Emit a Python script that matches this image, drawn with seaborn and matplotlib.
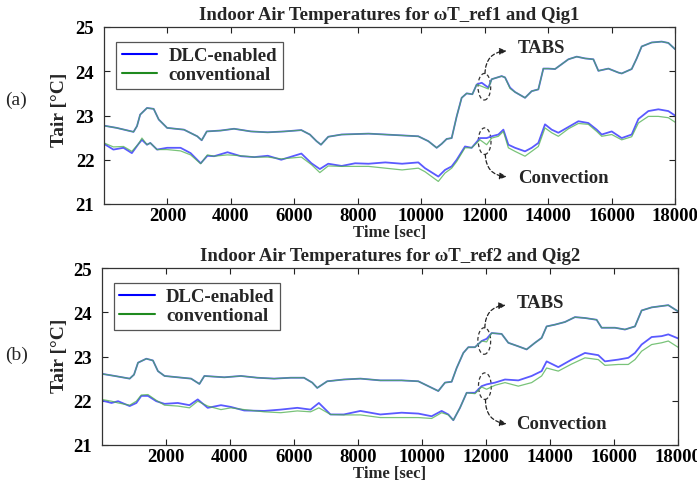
import numpy as np
import pandas as pd
import matplotlib
matplotlib.use("Agg")
import matplotlib.pyplot as plt
from matplotlib.patches import Ellipse
from matplotlib.lines import Line2D
import seaborn as sns

# ---------------- data ----------------
# Panel (a)
a_tabs_t = [0, 400, 930, 1040, 1140, 1355, 1566, 1725, 1990, 2520, 2940, 3080, 3240, 3680, 4100,
            4630, 5160, 5690, 6220, 6490, 6700, 6840, 7070, 7490, 8340, 8870, 9400, 9908, 10224, 10487,
            10645, 10802, 10960, 11118, 11275, 11433, 11612, 11748, 11906, 12116, 12221, 12536, 12642, 12800, 12957,
            13272, 13482, 13692, 13850, 14008, 14219, 14429, 14639, 14902, 15164, 15427, 15585, 15900, 16215, 16320,
            16635, 16793, 16950, 17265, 17580, 17790, 18000]
a_tabs_dlc = [22.77, 22.72, 22.63, 22.76, 23.02, 23.17, 23.15, 22.91, 22.72, 22.68, 22.53, 22.44, 22.64, 22.66, 22.70,
              22.64, 22.62, 22.64, 22.67, 22.57, 22.42, 22.34, 22.52, 22.57, 22.59, 22.57, 22.55, 22.53, 22.42, 22.27,
              22.36, 22.47, 22.49, 22.98, 23.40, 23.50, 23.48, 23.70, 23.74, 23.63, 23.82, 23.89, 23.86, 23.63, 23.53,
              23.40, 23.55, 23.59, 24.06, 24.06, 24.05, 24.16, 24.27, 24.33, 24.29, 24.27, 24.01, 24.06, 23.97, 23.95,
              24.05, 24.29, 24.56, 24.65, 24.67, 24.64, 24.50]
a_tabs_conv = [22.77, 22.72, 22.63, 22.76, 23.02, 23.17, 23.15, 22.91, 22.72, 22.68, 22.53, 22.44, 22.64, 22.66, 22.70,
               22.64, 22.62, 22.64, 22.67, 22.57, 22.42, 22.34, 22.52, 22.57, 22.59, 22.57, 22.55, 22.53, 22.42, 22.27,
               22.36, 22.47, 22.49, 22.98, 23.40, 23.50, 23.48, 23.70, 23.66, 23.60, 23.82, 23.89, 23.86, 23.61, 23.53,
               23.40, 23.55, 23.59, 24.06, 24.06, 24.05, 24.16, 24.27, 24.33, 24.29, 24.27, 24.01, 24.06, 23.97, 23.95,
               24.05, 24.29, 24.56, 24.65, 24.67, 24.64, 24.50]
a_conv_t = [0, 296, 614, 878, 1090, 1196, 1355, 1460, 1672, 1990, 2413, 2730, 3048, 3259, 3470,
            3894, 4317, 4741, 5164, 5587, 6222, 6540, 6804, 7069, 7492, 7915, 8338, 8868, 9397, 9908,
            10118, 10539, 10750, 10960, 11118, 11380, 11590, 11853, 12063, 12221, 12432, 12590, 12747, 12957, 13272,
            13482, 13692, 13902, 14113, 14323, 14639, 14954, 15269, 15532, 15690, 16005, 16320, 16635, 16845, 17160,
            17475, 17790, 18000]
a_conv_dlc = [22.36, 22.23, 22.27, 22.15, 22.36, 22.45, 22.34, 22.38, 22.23, 22.27, 22.27, 22.15, 21.92, 22.09, 22.08,
              22.17, 22.08, 22.06, 22.09, 22.00, 22.14, 21.92, 21.79, 21.91, 21.86, 21.92, 21.91, 21.94, 21.91, 21.94,
              21.81, 21.62, 21.77, 21.85, 22.00, 22.30, 22.27, 22.49, 22.49, 22.53, 22.57, 22.68, 22.34, 22.27, 22.19,
              22.27, 22.38, 22.80, 22.68, 22.61, 22.74, 22.87, 22.83, 22.68, 22.57, 22.64, 22.49, 22.57, 22.92, 23.10,
              23.14, 23.10, 23.00]
a_conv_conv = [22.38, 22.29, 22.30, 22.19, 22.36, 22.49, 22.34, 22.38, 22.23, 22.23, 22.20, 22.11, 21.91, 22.11, 22.08,
               22.11, 22.09, 22.06, 22.06, 22.02, 22.06, 21.89, 21.71, 21.86, 21.85, 21.85, 21.85, 21.81, 21.77, 21.81,
               21.73, 21.51, 21.70, 21.81, 21.96, 22.27, 22.27, 22.45, 22.34, 22.49, 22.53, 22.64, 22.27, 22.19, 22.08,
               22.19, 22.30, 22.72, 22.61, 22.53, 22.70, 22.82, 22.80, 22.64, 22.53, 22.57, 22.45, 22.52, 22.83, 22.98,
               22.98, 22.95, 22.85]

# Panel (b)
b_tabs_t = [0, 415, 880, 1015, 1140, 1400, 1606, 1762, 1969, 2383, 2798, 3057, 3212, 3834, 4352,
            4870, 5388, 5907, 6321, 6580, 6736, 7047, 7565, 8083, 8705, 9371, 9892, 10204, 10516, 10725,
            10933, 11089, 11297, 11453, 11661, 11869, 12025, 12181, 12494, 12702, 13014, 13274, 13534, 13742, 13898,
            14159, 14471, 14783, 15095, 15459, 15615, 16032, 16344, 16656, 16864, 17177, 17489, 17697, 18000]
b_tabs_dlc = [22.61, 22.56, 22.50, 22.59, 22.86, 22.95, 22.91, 22.67, 22.56, 22.53, 22.50, 22.38, 22.56, 22.53, 22.56,
              22.52, 22.50, 22.52, 22.52, 22.41, 22.29, 22.44, 22.48, 22.50, 22.46, 22.46, 22.44, 22.33, 22.22, 22.41,
              22.43, 22.74, 23.08, 23.21, 23.21, 23.35, 23.40, 23.53, 23.51, 23.31, 23.23, 23.16, 23.31, 23.42, 23.68,
              23.72, 23.78, 23.89, 23.87, 23.83, 23.65, 23.65, 23.61, 23.68, 24.04, 24.11, 24.14, 24.16, 24.02]
b_tabs_conv = [22.61, 22.56, 22.50, 22.59, 22.86, 22.95, 22.91, 22.67, 22.56, 22.53, 22.50, 22.38, 22.56, 22.53, 22.56,
               22.52, 22.50, 22.52, 22.52, 22.41, 22.29, 22.44, 22.48, 22.50, 22.46, 22.46, 22.44, 22.33, 22.22, 22.41,
               22.43, 22.74, 23.08, 23.21, 23.21, 23.35, 23.33, 23.53, 23.51, 23.31, 23.23, 23.16, 23.31, 23.42, 23.68,
               23.72, 23.78, 23.89, 23.87, 23.83, 23.65, 23.65, 23.61, 23.68, 24.04, 24.11, 24.14, 24.16, 24.02]
b_conv_t = [0, 311, 518, 880, 1088, 1243, 1450, 1710, 1969, 2383, 2746, 3005, 3316, 3730, 4041,
            4456, 5078, 5596, 6114, 6528, 6787, 7150, 7565, 8083, 8705, 9371, 9892, 10308, 10620, 10829,
            10985, 11193, 11401, 11661, 11869, 12025, 12286, 12598, 13014, 13430, 13742, 13898, 14263, 14679, 15095,
            15511, 15719, 16136, 16448, 16656, 16864, 17177, 17489, 17697, 18000]
b_conv_dlc = [22.01, 21.95, 21.99, 21.88, 21.95, 22.11, 22.11, 21.99, 21.93, 21.95, 21.90, 22.03, 21.84, 21.90, 21.86,
              21.78, 21.77, 21.80, 21.84, 21.80, 21.95, 21.69, 21.69, 21.77, 21.69, 21.73, 21.71, 21.65, 21.77, 21.69,
              21.56, 21.84, 22.18, 22.18, 22.33, 22.37, 22.41, 22.48, 22.46, 22.56, 22.67, 22.89, 22.76, 22.93, 23.08,
              23.03, 22.89, 22.93, 22.97, 23.08, 23.27, 23.44, 23.46, 23.50, 23.41]
b_conv_conv = [22.03, 21.99, 21.95, 21.90, 21.99, 22.13, 22.14, 22.01, 21.90, 21.88, 21.84, 21.99, 21.88, 21.80, 21.84,
               21.80, 21.75, 21.73, 21.77, 21.75, 21.84, 21.69, 21.68, 21.68, 21.62, 21.62, 21.62, 21.60, 21.73, 21.68,
               21.56, 21.84, 22.18, 22.16, 22.31, 22.26, 22.35, 22.41, 22.33, 22.41, 22.56, 22.74, 22.67, 22.83, 22.97,
               22.93, 22.80, 22.82, 22.82, 22.93, 23.12, 23.27, 23.31, 23.35, 23.21]

series_labels = ["DLC-enabled", "conventional"]
titles = ["Indoor Air Temperatures for \u03c9T_ref1 and Qig1",
          "Indoor Air Temperatures for \u03c9T_ref2 and Qig2"]
panel_tags = ["(a)", "(b)"]
x_ticks = [2000, 4000, 6000, 8000, 10000, 12000, 14000, 16000, 18000]
y_ticks = [21, 22, 23, 24, 25]

# ---------------- style ----------------
sns.set_theme(style="ticks")
plt.rcParams["font.family"] = ["Liberation Serif", "DejaVu Serif"]
plt.rcParams["font.weight"] = "bold"
plt.rcParams["axes.labelweight"] = "bold"
plt.rcParams["axes.titleweight"] = "bold"

BLUE_LINE = "#5a5aff"
GREEN_LINE = "#4caf4c"
BLUE_LEG = "#0000ff"
GREEN_LEG = "#1f8a1f"

fig = plt.figure(figsize=(6.97, 4.85), dpi=100)
ax_a = fig.add_axes([104 / 697, 1 - 205 / 485, 571 / 697, 177 / 485])
ax_b = fig.add_axes([101.5 / 697, 1 - 446 / 485, 576.5 / 697, 177 / 485])

panels = [
    dict(ax=ax_a, tabs_t=a_tabs_t, tabs_d=a_tabs_dlc, tabs_c=a_tabs_conv,
         conv_t=a_conv_t, conv_d=a_conv_dlc, conv_c=a_conv_conv,
         ell_tabs=(11990, 23.65), ell_conv=(12000, 22.42),
         tip_tabs=(12690, 24.46), tip_conv=(12690, 21.62),
         txt_tabs=(13040, 24.54), txt_conv=(13040, 21.61), tag_y=100,
         ylab=(-0.063, 0.54)),
    dict(ax=ax_b, tabs_t=b_tabs_t, tabs_d=b_tabs_dlc, tabs_c=b_tabs_conv,
         conv_t=b_conv_t, conv_d=b_conv_dlc, conv_c=b_conv_conv,
         ell_tabs=(11950, 23.35), ell_conv=(11970, 22.33),
         tip_tabs=(12620, 24.16), tip_conv=(12650, 21.48),
         txt_tabs=(12960, 24.23), txt_conv=(12960, 21.48), tag_y=355,
         ylab=(-0.058, 0.51)),
]

for i, p in enumerate(panels):
    ax = p["ax"]
    for t, d, c in [(p["tabs_t"], p["tabs_d"], p["tabs_c"]),
                    (p["conv_t"], p["conv_d"], p["conv_c"])]:
        df = pd.DataFrame({"t": t, "dlc": d, "conv": c})
        sns.lineplot(data=df, x="t", y="dlc", ax=ax, color=BLUE_LINE, lw=1.3)
        sns.lineplot(data=df, x="t", y="conv", ax=ax, color=GREEN_LINE, lw=0.9, alpha=0.75)

    ax.set_xlim(0, 18000)
    ax.set_ylim(21, 25)
    ax.set_xticks(x_ticks)
    ax.set_yticks(y_ticks)
    ax.tick_params(axis="both", direction="in", length=4, width=0.8,
                   top=True, right=True, labelsize=13.5, colors="#222222")
    ax.tick_params(axis="x", pad=2)
    ax.tick_params(axis="y", pad=7)
    for lab in ax.get_xticklabels() + ax.get_yticklabels():
        lab.set_fontweight("bold")
        lab.set_color("black")
    for s in ax.spines.values():
        s.set_visible(True)
        s.set_linewidth(0.9)
        s.set_color("#333333")

    ax.set_xlabel("Time [sec]", fontsize=12, labelpad=0, fontweight="bold")
    ax.set_ylabel("Tair [\u00b0C]", fontsize=14, fontweight="bold")
    ax.yaxis.set_label_coords(*p["ylab"])
    ax.set_title(titles[i], fontsize=13.5, fontweight="bold", pad=6)

    handles = [Line2D([], [], color=BLUE_LEG, lw=1.5), Line2D([], [], color=GREEN_LEG, lw=1.5)]
    leg = ax.legend(handles, series_labels, loc="upper left",
                    bbox_to_anchor=(12 / 571, 1 - 14.5 / 177), borderaxespad=0,
                    prop={"family": "Liberation Serif", "weight": "bold", "size": 13.5},
                    frameon=True, fancybox=False, framealpha=1, edgecolor="#555555",
                    handlelength=1.9, handletextpad=0.6, labelspacing=0.1, borderpad=0.3)
    leg.get_frame().set_linewidth(0.9)

    # dashed ellipses and curved arrows
    for (cx, cy) in [p["ell_tabs"], p["ell_conv"]]:
        ax.add_patch(Ellipse((cx, cy), width=400, height=0.6, fill=False,
                             ls=(0, (3, 2)), lw=0.9, edgecolor="#333333"))
    ex, ey = p["ell_tabs"]
    ax.annotate("", xy=p["tip_tabs"], xytext=(ex + 20, ey + 0.3),
                arrowprops=dict(arrowstyle="-|>", ls=(0, (3, 2)), lw=0.9, color="#222222",
                                connectionstyle="arc3,rad=-0.45", mutation_scale=10,
                                shrinkA=0, shrinkB=0))
    ex, ey = p["ell_conv"]
    ax.annotate("", xy=p["tip_conv"], xytext=(ex + 20, ey - 0.3),
                arrowprops=dict(arrowstyle="-|>", ls=(0, (3, 2)), lw=0.9, color="#222222",
                                connectionstyle="arc3,rad=0.45", mutation_scale=10,
                                shrinkA=0, shrinkB=0))
    ax.text(*p["txt_tabs"], "TABS", fontsize=13.5, fontweight="bold", ha="left", va="center")
    ax.text(*p["txt_conv"], "Convection", fontsize=13.5, fontweight="bold", ha="left", va="center")

    fig.text(5 / 697, 1 - p["tag_y"] / 485, panel_tags[i], fontsize=14,
             fontweight="normal", ha="left", va="center")

fig.savefig("out.png", dpi=100, facecolor="white")
